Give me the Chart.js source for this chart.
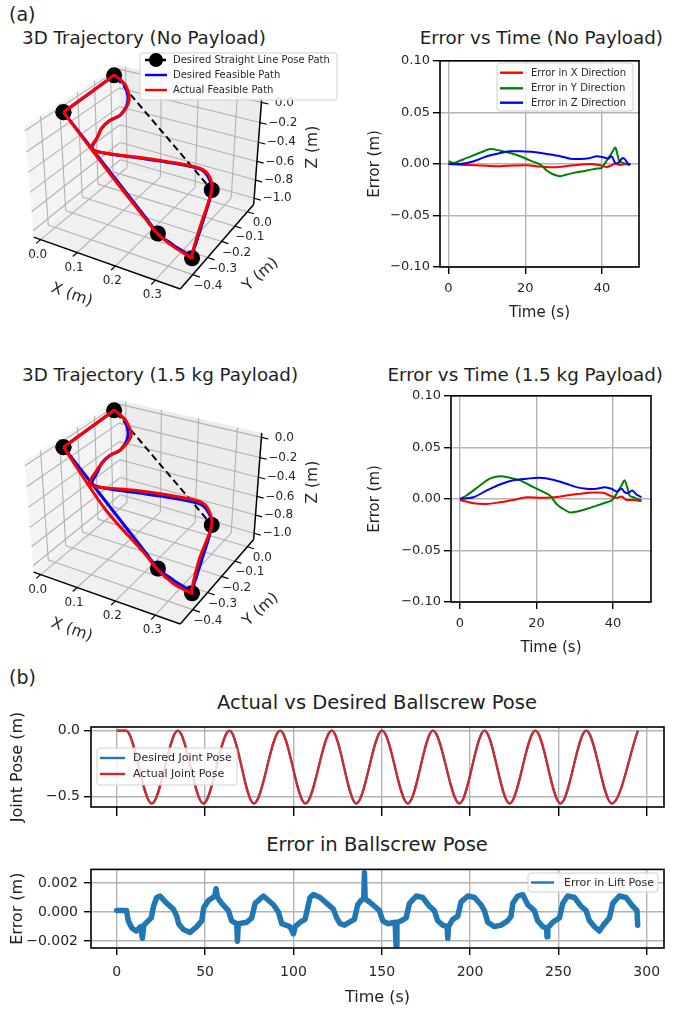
<!DOCTYPE html>
<html>
<head>
<meta charset="utf-8">
<title>Trajectory tracking</title>
<script src="https://cdn.jsdelivr.net/npm/chart.js@4.4.1/dist/chart.umd.min.js"></script>
<style>
  html, body { margin: 0; padding: 0; background: #fff; }
  body { position: relative; width: 682px; height: 1011px; overflow: hidden; font-family: "DejaVu Sans", sans-serif; color: #1e1e1e; }
  canvas { position: absolute; }
  .lbl { position: absolute; white-space: nowrap; transform: translateY(-50%); line-height: 1; }
  .mid { transform: translate(-50%, -50%); }
</style>
</head>
<body>
<div class="lbl" style="left:9px;top:14px;font-size:19px">(a)</div>
<div class="lbl" style="left:22px;top:38px;font-size:18.3px">3D Trajectory (No Payload)</div>
<div class="lbl" style="right:19px;top:38px;font-size:18.3px">Error vs Time (No Payload)</div>
<div class="lbl" style="left:22px;top:375px;font-size:18.3px">3D Trajectory (1.5 kg Payload)</div>
<div class="lbl" style="right:19px;top:375px;font-size:18.3px">Error vs Time (1.5 kg Payload)</div>
<div class="lbl" style="left:9px;top:677px;font-size:19px">(b)</div>
<div class="lbl mid" style="left:377px;top:703px;font-size:19.5px">Actual vs Desired Ballscrew Pose</div>
<div class="lbl mid" style="left:377px;top:845px;font-size:19.5px">Error in Ballscrew Pose</div>

<canvas id="traj1" width="340" height="280" style="left:0;top:45px"></canvas>
<canvas id="err1" width="337" height="280" style="left:345px;top:50px"></canvas>
<canvas id="traj2" width="340" height="280" style="left:0;top:380px"></canvas>
<canvas id="err2" width="337" height="280" style="left:345px;top:385px"></canvas>
<canvas id="pose" width="682" height="125" style="left:0;top:700px"></canvas>
<canvas id="lift" width="682" height="156" style="left:0;top:855px"></canvas>

<script>
// ---- 3D trajectory: axis limits and ticks ----
var xLim3d = [-0.02, 0.36];
var yLim3d = [-0.48, 0.053];
var zLim3d = [-1.069, 0.042];
var xTicks3d = [0, 0.1, 0.2, 0.3];
var yTicks3d = [0, -0.1, -0.2, -0.3, -0.4];
var zTicks3d = [0, -0.2, -0.4, -0.6, -0.8, -1.0];

// waypoints of the straight line pose path (x, y, z in m)
var waypoints = [[0, -0.32, 0], [-0.01, 0, 0], [0.3, -0.11, -0.74], [0.35, -0.38, -0.95], [0.25, -0.34, -0.9], [0, -0.32, 0]];

var desiredPath = [
  [0, -0.32, 0], [-0.009, -0.032, 0], [-0.01, 0, 0], [0, 0.005, -0.03], [0.02, 0, -0.08],
  [0.02, 0.02, -0.26], [0.02, -0.03, -0.35], [0, -0.06, -0.4], [0, -0.11, -0.42], [0, -0.135, -0.48],
  [0, -0.17, -0.55], [0.02, -0.165, -0.58], [0.11, -0.155, -0.55], [0.19, -0.14, -0.53], [0.27, -0.125, -0.53],
  [0.29, -0.115, -0.6], [0.3, -0.11, -0.74], [0.325, -0.245, -0.85], [0.345, -0.365, -0.94], [0.35, -0.38, -0.95],
  [0.33, -0.37, -0.94], [0.3, -0.36, -0.93], [0.25, -0.34, -0.9], [0.22, -0.338, -0.79], [0, -0.32, 0]
];
var actualPathNoLoad = [
  [0, -0.32, 0], [-0.009, -0.032, 0], [-0.01, 0, 0], [0, 0.006, -0.03], [0.022, 0.002, -0.08],
  [0.022, 0.022, -0.26], [0.02, -0.028, -0.35], [0, -0.058, -0.4], [0, -0.108, -0.42], [0, -0.135, -0.48],
  [-0.002, -0.172, -0.55], [0.018, -0.166, -0.578], [0.11, -0.153, -0.547], [0.19, -0.138, -0.527], [0.272, -0.123, -0.527],
  [0.293, -0.113, -0.6], [0.3, -0.11, -0.74], [0.323, -0.247, -0.85], [0.345, -0.368, -0.942], [0.35, -0.38, -0.95],
  [0.33, -0.373, -0.945], [0.3, -0.363, -0.935], [0.25, -0.342, -0.9], [0.22, -0.342, -0.79], [0.125, -0.335, -0.45], [0, -0.32, 0]
];
var actualPathLoad = [
  [0, -0.32, 0], [-0.009, -0.032, 0], [-0.01, 0, 0], [0, 0.005, -0.03], [0.02, 0.005, -0.08],
  [0.025, 0.03, -0.26], [0.02, -0.025, -0.35], [0, -0.055, -0.4], [0, -0.105, -0.42], [-0.005, -0.135, -0.48],
  [-0.005, -0.175, -0.55], [0.015, -0.17, -0.575], [0.11, -0.15, -0.535], [0.19, -0.135, -0.515], [0.27, -0.12, -0.515],
  [0.29, -0.11, -0.59], [0.3, -0.11, -0.74], [0.32, -0.25, -0.85], [0.345, -0.37, -0.945], [0.35, -0.38, -0.95],
  [0.33, -0.375, -0.952], [0.3, -0.367, -0.945], [0.25, -0.343, -0.905], [0.22, -0.342, -0.795], [0.12, -0.348, -0.45], [0, -0.32, 0]
];

// ---- error vs time, no payload (t in s, error in m) ----
var noLoadXT = [0, 3, 6.6, 10, 13.5, 17, 20.4, 24, 28.2, 32.6, 36.9, 39.5, 41.2, 42.5, 43.3, 44.7, 46, 47.3];
var noLoadXV = [0, -0.0008, -0.0013, -0.0018, -0.0022, -0.0016, -0.0013, -0.0026, -0.0032, -0.0013, 0, -0.0013, -0.003, -0.0013, 0.0002, -0.001, -0.0004, -0.0006];
var noLoadYT = [0, 1.4, 4.8, 8.3, 10.9, 13.5, 16.1, 18.7, 21.3, 23.9, 25.6, 27.4, 29.1, 30.8, 32.6, 36, 38.6, 39.9, 40.8, 41.6, 42.5, 43.4, 43.8, 44.5, 45.5, 46.4, 47.3];
var noLoadYV = [0.0026, 0.001, 0.0058, 0.011, 0.0144, 0.0128, 0.0106, 0.0074, 0.0032, -0.0006, -0.0064, -0.0103, -0.0119, -0.0103, -0.0087, -0.0064, -0.0045, -0.0038, 0.001, 0.0058, 0.0106, 0.016, 0.012, 0.0026, 0.001, 0, -0.0013];
var noLoadZT = [0, 3.1, 6.6, 10, 13.5, 16.1, 18.7, 22.2, 25.6, 29.1, 31.7, 34.3, 36.9, 38.6, 40.3, 41.6, 42.5, 43.4, 44.2, 45.4, 46.2, 46.8, 47.4];
var noLoadZV = [0, 0, 0.0026, 0.0074, 0.0106, 0.0122, 0.0122, 0.0115, 0.0096, 0.0074, 0.0051, 0.0048, 0.0058, 0.0074, 0.0064, 0.0051, 0.0074, 0.001, 0.001, 0.0058, 0.0032, 0, 0];

// ---- error vs time, 1.5 kg payload ----
var loadXT = [0, 3.5, 7, 10.4, 13.9, 17.4, 20.9, 24.3, 27.8, 31.3, 34.8, 37.4, 39.1, 40.9, 42.2, 43.5, 45.2, 47.4];
var loadXV = [-0.001, -0.0042, -0.0049, -0.0033, -0.001, 0.0016, 0.001, 0.0016, 0.0033, 0.0049, 0.0062, 0.0059, 0.0033, 0.001, 0.0023, -0.001, -0.001, -0.0023];
var loadYT = [0, 1.7, 5.2, 7.8, 10.4, 13, 15.7, 18.3, 20.9, 23.5, 25.2, 27, 28.7, 30.4, 33, 35.7, 38.3, 39.6, 40.9, 42.2, 43, 43.7, 44.3, 45.7, 47.4];
var loadYV = [0, 0.0033, 0.013, 0.0196, 0.0219, 0.0206, 0.018, 0.013, 0.0082, 0.0033, -0.0049, -0.0098, -0.0131, -0.0124, -0.0098, -0.0065, -0.0033, -0.0016, 0.0049, 0.013, 0.018, 0.0114, 0.0033, 0.001, -0.0016];
var loadZT = [0, 3.5, 7, 10.4, 13.9, 17.4, 20.9, 24.3, 27.8, 30.4, 33, 35.7, 37.8, 39.6, 40.9, 42.2, 43, 43.9, 45, 46.1, 47.4];
var loadZV = [0, 0.0016, 0.0082, 0.014, 0.018, 0.0196, 0.0206, 0.0186, 0.0147, 0.0114, 0.0098, 0.0098, 0.0114, 0.0098, 0.0072, 0.0098, 0.0065, 0.0056, 0.0082, 0.0042, 0.0016];
var errTimeTicks = [0, 20, 40];
var errTicks = [-0.1, -0.05, 0, 0.05, 0.1];

// ---- ballscrew joint pose (extrema) ----
var poseT = [0, 5.2, 19.8, 34.6, 49, 63.8, 77.6, 92.5, 106.8, 121.7, 135.6, 150.2, 164.8, 179, 194, 208.2, 222.4, 237, 251.2, 265.8, 280.3, 295];
var poseDesired = [0, 0, -0.55, 0, -0.55, 0, -0.55, 0, -0.55, 0, -0.55, 0, -0.55, 0, -0.55, 0, -0.55, 0, -0.55, 0, -0.55, 0];
var poseActual = [0, 0, -0.553, 0, -0.553, 0, -0.553, 0, -0.553, 0, -0.553, 0, -0.553, 0, -0.553, 0, -0.553, 0, -0.553, 0, -0.553, 0];
var poseTicks = [-0.5, 0];
var timeTicks = [0, 50, 100, 150, 200, 250, 300];

// ---- ballscrew error (lift pose) ----
var liftT = [0, 5.5, 6.5, 8.5, 11, 13.5, 14.5, 15.3, 17, 19.5, 20.8, 22.6, 24.5, 28.3, 32, 34, 35, 37.7, 41.5, 45.3,
  48.1, 49.2, 51.9, 55.5, 56.2, 57, 59.4, 63.2, 65, 67.9, 68.3, 68.8, 73.6, 76.4, 78.3, 83, 88.7, 91.5, 93.4, 98,
  100, 101, 103.8, 106.6, 109.4, 111.3, 115.1, 118.9, 122.6, 124.5, 126.4, 128.9, 131.7, 134.5, 136.4, 138.3, 139.8, 140.2, 140.6, 143,
  145.9, 148.7, 150.6, 153.4, 157.6, 158.1, 158.6, 161, 163.8, 165.7, 169.5, 173.2, 177, 179.8, 181.7, 184.5, 187, 187.4, 187.8, 190.2,
  193, 194.9, 198.7, 202.5, 206.2, 208.1, 210, 213.8, 217.6, 221.3, 223.2, 224.2, 227, 229.8, 232.7, 236.4, 238.3, 241.2, 243.3, 243.6,
  244, 246.8, 250.6, 252.5, 255.3, 259.1, 262.8, 265.7, 267.6, 270.4, 273.2, 276.1, 278.9, 280.8, 284.5, 288.3, 292.1, 294.5, 294.9];
var liftV = [0.0001, 0.0001, -0.0006, -0.0011, -0.0013, -0.001, -0.0018, -0.0009, -0.0007, -0.0004, 0.0004, 0.001, 0.0011, 0.0006, 0.0002, -0.0003, -0.0008, -0.0012, -0.0014, -0.001,
  -0.0006, 0.0003, 0.0008, 0.0011, 0.0016, 0.001, 0.0006, 0.0001, -0.0006, -0.0008, -0.002, -0.0008, -0.0007, -0.0004, 0.0006, 0.0011, 0.0005, 0, -0.0008, -0.001,
  -0.0015, -0.001, -0.0007, -0.0005, 0.001, 0.0012, 0.001, 0.0006, 0.0002, -0.0004, -0.0008, -0.0009, -0.0007, -0.0005, 0.0005, 0.0008, 0.0009, 0.0027, 0.0009, 0.0007,
  0.0004, 0.0001, -0.0006, -0.0008, -0.0007, -0.0023, -0.0007, -0.0006, -0.0004, 0.0006, 0.0011, 0.001, 0.0004, 0.0001, -0.0006, -0.0009, -0.001, -0.0018, -0.001, -0.0005,
  -0.0003, 0.0007, 0.0011, 0.001, 0.0005, 0.0001, -0.0007, -0.001, -0.0009, -0.0006, -0.0003, 0.0006, 0.0011, 0.0012, 0.0005, 0.0001, -0.0006, -0.001, -0.0011, -0.0017,
  -0.0011, -0.0007, -0.0004, 0.0006, 0.0011, 0.001, 0.0004, 0.0001, -0.0006, -0.001, -0.0013, -0.0008, -0.0004, 0.0006, 0.0011, 0.001, 0.0004, 0.0001, -0.0009];
var liftTicks = [-0.002, 0, 0.002];

// ---------------------------------------------------------------
Chart.defaults.font.family = '"DejaVu Sans", sans-serif';
Chart.defaults.color = '#222';
Chart.defaults.animation = false;

// matplotlib-like view: azim -60, elev 30, box aspect 4:4:3, mild perspective
var VIEW = { az: -60, el: 30, dist: 5, scale: 167, cx: 147, cy: 123 };

function project(p) {
  var u = (p[0] - xLim3d[0]) / (xLim3d[1] - xLim3d[0]) - 0.5;
  var v = (p[1] - yLim3d[0]) / (yLim3d[1] - yLim3d[0]) - 0.5;
  var w = ((p[2] - zLim3d[0]) / (zLim3d[1] - zLim3d[0]) - 0.5) * 0.75;
  var az = VIEW.az * Math.PI / 180, el = VIEW.el * Math.PI / 180;
  var X = -Math.sin(az) * u + Math.cos(az) * v;
  var Y = -Math.sin(el) * Math.cos(az) * u - Math.sin(el) * Math.sin(az) * v + Math.cos(el) * w;
  var D = Math.cos(el) * Math.cos(az) * u + Math.cos(el) * Math.sin(az) * v + Math.sin(el) * w;
  var f = VIEW.dist / (VIEW.dist - D);
  return { x: VIEW.cx + VIEW.scale * f * X, y: VIEW.cy - VIEW.scale * f * Y };
}

function fmt(dec) {
  return function (v) { return v.toFixed(dec).replace('-', '\u2212'); };
}

function pts(ts, vs) {
  return ts.map(function (t, i) { return { x: t, y: vs[i] }; });
}

var framePlugin = {
  id: 'frame',
  afterDatasetsDraw: function (chart, args, o) {
    if (!o || !o.on) return;
    var a = chart.chartArea, ctx = chart.ctx;
    ctx.save();
    ctx.strokeStyle = '#000';
    ctx.lineWidth = 1.6;
    ctx.strokeRect(a.left, a.top, a.right - a.left, a.bottom - a.top);
    ctx.restore();
  }
};

var legendPlugin = {
  id: 'mplLegend',
  afterDraw: function (chart, args, o) {
    if (!o || !o.box) return;
    var ctx = chart.ctx, b = o.box;
    ctx.save();
    ctx.beginPath();
    if (ctx.roundRect) ctx.roundRect(b[0], b[1], b[2], b[3], 3); else ctx.rect(b[0], b[1], b[2], b[3]);
    ctx.fillStyle = 'rgba(255,255,255,0.82)';
    ctx.fill();
    ctx.strokeStyle = '#d0d0d0';
    ctx.lineWidth = 1;
    ctx.stroke();
    ctx.font = o.font + 'px "DejaVu Sans"';
    ctx.textBaseline = 'middle';
    for (var i = 0; i < o.items.length; i++) {
      var ds = chart.data.datasets[o.items[i]];
      var y = o.rows[i];
      ctx.strokeStyle = ds.borderColor;
      ctx.lineWidth = 2.4;
      ctx.setLineDash(ds.borderDash ? [5, 3] : []);
      ctx.beginPath();
      ctx.moveTo(o.sample[0], y);
      ctx.lineTo(o.sample[1], y);
      ctx.stroke();
      ctx.setLineDash([]);
      if (ds.pointRadius) {
        ctx.fillStyle = ds.backgroundColor;
        ctx.beginPath();
        ctx.arc((o.sample[0] + o.sample[1]) / 2, y, ds.pointRadius - 1, 0, Math.PI * 2);
        ctx.fill();
      }
      ctx.fillStyle = '#2a2a2a';
      ctx.fillText(ds.label, o.textX, y + 0.5);
    }
    ctx.restore();
  }
};

var axes3dPlugin = {
  id: 'axes3d',
  beforeDatasetsDraw: function (chart, args, o) {
    if (!o || !o.on) return;
    var ctx = chart.ctx;
    var sx = chart.scales.x, sy = chart.scales.y;
    function P(x, y, z) {
      var q = project([x, y, z]);
      return [sx.getPixelForValue(q.x), sy.getPixelForValue(q.y)];
    }
    function poly(list, fill) {
      ctx.beginPath();
      ctx.moveTo(list[0][0], list[0][1]);
      for (var i = 1; i < list.length; i++) ctx.lineTo(list[i][0], list[i][1]);
      ctx.closePath();
      ctx.fillStyle = fill;
      ctx.fill();
    }
    function seg(a, b, color, width) {
      ctx.strokeStyle = color;
      ctx.lineWidth = width;
      ctx.beginPath();
      ctx.moveTo(a[0], a[1]);
      ctx.lineTo(b[0], b[1]);
      ctx.stroke();
    }
    function text(str, at, dx, dy, size, rot) {
      ctx.save();
      ctx.translate(at[0] + dx, at[1] + dy);
      ctx.rotate(rot * Math.PI / 180);
      ctx.font = size + 'px "DejaVu Sans"';
      ctx.fillStyle = '#262626';
      ctx.textAlign = 'center';
      ctx.textBaseline = 'middle';
      ctx.fillText(str, 0, 0);
      ctx.restore();
    }
    var x0 = xLim3d[0], x1 = xLim3d[1], y0 = yLim3d[0], y1 = yLim3d[1], z0 = zLim3d[0], z1 = zLim3d[1];
    var gx = 0.045 * (x1 - x0), gy = 0.045 * (y1 - y0);
    ctx.save();
    poly([P(x0, y0, z0), P(x0, y1, z0), P(x0, y1, z1), P(x0, y0, z1)], '#f4f4f4');
    poly([P(x0, y1, z0), P(x1, y1, z0), P(x1, y1, z1), P(x0, y1, z1)], '#ececec');
    poly([P(x0, y0, z0), P(x1, y0, z0), P(x1, y1, z0), P(x0, y1, z0)], '#f0f0f0');
    var grid = '#b2b2b2';
    xTicks3d.forEach(function (x) {
      seg(P(x, y1, z0), P(x, y1, z1), grid, 1.1);
      seg(P(x, y0, z0), P(x, y1, z0), grid, 1.1);
    });
    yTicks3d.forEach(function (y) {
      seg(P(x0, y, z0), P(x0, y, z1), grid, 1.1);
      seg(P(x0, y, z0), P(x1, y, z0), grid, 1.1);
    });
    zTicks3d.forEach(function (z) {
      seg(P(x0, y0, z), P(x0, y1, z), grid, 1.1);
      seg(P(x0, y1, z), P(x1, y1, z), grid, 1.1);
    });
    // axis lines
    seg(P(x0, y0, z0), P(x1, y0, z0), '#000', 1.5);
    seg(P(x1, y0, z0), P(x1, y1, z0), '#000', 1.5);
    seg(P(x1, y1, z0), P(x1, y1, z1), '#000', 1.5);
    // ticks and tick labels
    xTicks3d.forEach(function (x) {
      seg(P(x, y0, z0), P(x, y0 - gy, z0), '#000', 1.2);
      text(fmt(1)(x), P(x, y0, z0), -3, 15, 12, 0);
    });
    yTicks3d.forEach(function (y) {
      seg(P(x1, y, z0), P(x1 + gx, y, z0), '#000', 1.2);
      text(fmt(1)(y), P(x1, y, z0), 15, 11, 12, 0);
    });
    zTicks3d.forEach(function (z) {
      seg(P(x1, y1, z), P(x1 + gx, y1, z), '#000', 1.2);
      text(fmt(1)(z), P(x1, y1, z), 23, 0, 12, 0);
    });
    // axis titles
    text('X (m)', P((x0 + x1) / 2, y0, z0), -32, 33, 15.5, 20);
    text('Y (m)', P(x1, (y0 + y1) / 2, z0), 41, 31, 15.5, -42);
    text('Z (m)', P(x1, y1, (z0 + z1) / 2), 55, -6, 15.5, -90);
    ctx.restore();
  }
};

Chart.register(framePlugin, legendPlugin, axes3dPlugin);

function trajChart(id, actual, legend) {
  var proj = function (list) { return list.map(project); };
  return new Chart(document.getElementById(id), {
    type: 'scatter',
    data: {
      datasets: [
        { label: 'Desired Straight Line Pose Path', data: proj(waypoints), showLine: true, borderColor: '#000000',
          backgroundColor: '#000000', borderWidth: 2, borderDash: [7, 4], pointRadius: 8, pointBorderWidth: 0, order: 3 },
        { label: 'Desired Feasible Path', data: proj(desiredPath), showLine: true, borderColor: '#0000ff',
          backgroundColor: '#0000ff', borderWidth: 3, pointRadius: 0, tension: 0.3, order: 2 },
        { label: 'Actual Feasible Path', data: proj(actual), showLine: true, borderColor: '#ff0000',
          backgroundColor: '#ff0000', borderWidth: 3, pointRadius: 0, tension: 0.3, order: 1 }
      ]
    },
    options: {
      responsive: false,
      layout: { padding: 0, autoPadding: false },
      scales: {
        x: { type: 'linear', display: false, min: 0, max: 340 },
        y: { type: 'linear', display: false, min: 0, max: 280, reverse: true }
      },
      plugins: {
        legend: { display: false },
        tooltip: { enabled: false },
        axes3d: { on: true },
        mplLegend: legend || false
      }
    }
  });
}

function axis(o) {
  return {
    type: 'linear', min: o.min, max: o.max,
    afterBuildTicks: function (s) { s.ticks = o.ticks.map(function (v) { return { value: v }; }); },
    afterFit: function (s) { if (s.isHorizontal()) s.height = o.size; else s.width = o.size; },
    grid: { color: '#b4b4b4', lineWidth: 1.4, tickLength: o.tick || 7, tickColor: '#000', tickWidth: 1.4 },
    border: { display: false },
    ticks: { display: o.labels !== false, color: '#262626', font: { size: o.font || 13 }, padding: o.pad,
      maxRotation: 0, autoSkip: false, callback: fmt(o.dec || 0) },
    title: o.title ? { display: true, text: o.title, color: '#1e1e1e', font: { size: o.titleSize }, padding: o.titlePad } : { display: false }
  };
}

function line(label, data, color, width, order) {
  return { label: label, data: data, showLine: true, borderColor: color, backgroundColor: color,
    borderWidth: width, pointRadius: 0, tension: 0.3, order: order };
}

function errChart(id, xr, yr, xt, yt, zt, padding, legend) {
  return new Chart(document.getElementById(id), {
    type: 'scatter',
    data: {
      datasets: [
        line('Error in X Direction', pts(xt[0], xt[1]), '#ff0000', 2, 3),
        line('Error in Y Direction', pts(yt[0], yt[1]), '#008000', 2, 2),
        line('Error in Z Direction', pts(zt[0], zt[1]), '#0000ff', 2, 1)
      ]
    },
    options: {
      responsive: false,
      layout: { padding: padding, autoPadding: false },
      scales: {
        x: axis({ min: xr[0], max: xr[1], ticks: errTimeTicks, size: 63, pad: 7, title: 'Time (s)', titleSize: 15, titlePad: { bottom: 8 } }),
        y: axis({ min: yr[0], max: yr[1], ticks: errTicks, size: padding.yw, pad: 3, dec: 2, title: 'Error (m)', titleSize: 15, titlePad: { top: 21 } })
      },
      plugins: { legend: { display: false }, tooltip: { enabled: false }, frame: { on: true }, mplLegend: legend || false }
    }
  });
}

trajChart('traj1', actualPathNoLoad, { box: [140, 8, 197, 47], rows: [15, 30, 45], sample: [145, 167], textX: 173, font: 10, items: [0, 1, 2] });
trajChart('traj2', actualPathLoad, null);

errChart('err1', [-2.2, 49.6], [-0.1, 0.1], [noLoadXT, noLoadXV], [noLoadYT, noLoadYV], [noLoadZT, noLoadZV],
  { left: 0, top: 9, right: 43, bottom: 0, yw: 95 },
  { box: [152, 13, 136, 48], rows: [22.7, 38.3, 52.7], sample: [155, 178], textX: 186, font: 10, items: [0, 1, 2] });
errChart('err2', [-2.35, 49.9], [-0.1, 0.1], [loadXT, loadXV], [loadYT, loadYV], [loadZT, loadZV],
  { left: 0, top: 10, right: 31, bottom: 0, yw: 106 }, null);

new Chart(document.getElementById('pose'), {
  type: 'scatter',
  data: {
    datasets: [
      { label: 'Desired Joint Pose', data: pts(poseT, poseDesired), showLine: true, borderColor: '#1f77b4', backgroundColor: '#1f77b4',
        borderWidth: 2.2, pointRadius: 0, cubicInterpolationMode: 'monotone', order: 2 },
      { label: 'Actual Joint Pose', data: pts(poseT, poseActual), showLine: true, borderColor: '#d62728', backgroundColor: '#d62728',
        borderWidth: 2.2, pointRadius: 0, cubicInterpolationMode: 'monotone', order: 1 }
    ]
  },
  options: {
    responsive: false,
    layout: { padding: { left: 0, top: 27, right: 18, bottom: 0 }, autoPadding: false },
    scales: {
      x: axis({ min: -14.6, max: 309.8, ticks: timeTicks, size: 18, tick: 9, labels: false, pad: 0 }),
      y: axis({ min: -0.578, max: 0.028, ticks: poseTicks, size: 91, pad: 4, dec: 1, font: 14, title: 'Joint Pose (m)', titleSize: 16, titlePad: { top: 8 } })
    },
    plugins: {
      legend: { display: false }, tooltip: { enabled: false }, frame: { on: true },
      mplLegend: { box: [97, 48, 140, 37], rows: [58, 74], sample: [100, 125], textX: 133, font: 11, items: [0, 1] }
    }
  }
});

new Chart(document.getElementById('lift'), {
  type: 'scatter',
  data: {
    datasets: [
      { label: 'Error in Lift Pose', data: pts(liftT, liftV), showLine: true, borderColor: '#1f77b4', backgroundColor: '#1f77b4',
        borderWidth: 5.5, borderJoinStyle: 'round', borderCapStyle: 'round', pointRadius: 0, tension: 0 }
    ]
  },
  options: {
    responsive: false,
    layout: { padding: { left: 0, top: 12, right: 18, bottom: 0 }, autoPadding: false },
    scales: {
      x: axis({ min: -14.6, max: 309.8, ticks: timeTicks, size: 63, pad: 9, font: 14, title: 'Time (s)', titleSize: 16, titlePad: { bottom: 4 } }),
      y: axis({ min: -0.00247, max: 0.00293, ticks: liftTicks, size: 91, pad: 6, dec: 3, font: 14, title: 'Error (m)', titleSize: 16, titlePad: { top: 8 } })
    },
    plugins: {
      legend: { display: false }, tooltip: { enabled: false }, frame: { on: true },
      mplLegend: { box: [528, 18, 130, 19], rows: [27.5], sample: [531, 554], textX: 564, font: 11, items: [0] }
    }
  }
});
</script>
</body>
</html>
